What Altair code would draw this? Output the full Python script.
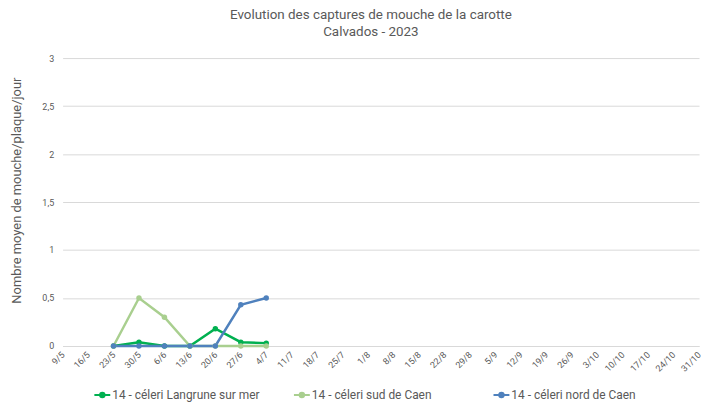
import altair as alt
import pandas as pd

dates = ["9/5", "16/5", "23/5", "30/5", "6/6", "13/6", "20/6", "27/6", "4/7", "11/7",
         "18/7", "25/7", "1/8", "8/8", "15/8", "22/8", "29/8", "5/9", "12/9", "19/9",
         "26/9", "3/10", "10/10", "17/10", "24/10", "31/10"]

obs_dates = ["23/5", "30/5", "6/6", "13/6", "20/6", "27/6", "4/7"]
langrune = [0, 0.04, 0, 0, 0.18, 0.04, 0.03]
sud_caen = [0, 0.5, 0.3, 0, 0, 0, 0]
nord_caen = [0, 0, 0, 0, 0, 0.43, 0.5]

series_names = ["14 - céleri Langrune sur mer", "14 - céleri sud de Caen", "14 - céleri nord de Caen"]
series_colors = ["#00B050", "#A9CF8F", "#4F81BD"]

rows = []
for k, (name, vals) in enumerate(zip(series_names, [langrune, sud_caen, nord_caen])):
    for d, v in zip(obs_dates, vals):
        rows.append({"date": d, "valeur": v, "serie": name, "ordre": k})
df = pd.DataFrame(rows)

FONT = "Roboto"
GREY = "#595959"

x = alt.X("date:O", sort=dates,
          scale=alt.Scale(domain=dates, type="point", padding=0),
          axis=alt.Axis(title=None, labelAngle=315, labelAlign="right", labelBaseline="middle",
                        labelPadding=7, ticks=False, domain=True, domainColor="#D9D9D9",
                        labelColor=GREY, labelFont=FONT, labelFontSize=9, grid=False))
y = alt.Y("valeur:Q", scale=alt.Scale(domain=[0, 3]),
          axis=alt.Axis(title="Nombre moyen de mouche/plaque/jour", values=[0, 0.5, 1, 1.5, 2, 2.5, 3],
                        labelExpr="replace(toString(datum.value), '.', ',')",
                        ticks=False, domain=False, gridColor="#D9D9D9", labelPadding=9,
                        labelColor=GREY, labelFont=FONT, labelFontSize=9,
                        titleColor=GREY, titleFont=FONT, titleFontSize=13, titleFontWeight="normal",
                        titleX=-46, titleY=133, titleAngle=270, titleAlign="center", titleBaseline="middle"))
color = alt.Color("serie:N", sort=series_names,
                  scale=alt.Scale(domain=series_names, range=series_colors),
                  legend=alt.Legend(title=None, orient="none", direction="horizontal",
                                    columns=3, gridAlign="all",
                                    legendX=31, legendY=330, columnPadding=30,
                                    symbolType="M-1,0L1,0M-0.28,0A0.28,0.28,0,1,0,0.28,0A0.28,0.28,0,1,0,-0.28,0Z",
                                    symbolSize=256, symbolStrokeWidth=2,
                                    labelFont=FONT, labelFontSize=12, labelColor=GREY, labelOffset=1))

base = alt.Chart(df).encode(x=x, y=y, color=color, order=alt.Order("ordre:Q"))
lines = base.mark_line(strokeWidth=2.5).encode(detail="serie:N")
points = base.mark_point(filled=True, size=30, opacity=1)

chart = alt.layer(lines, points).properties(
    width=641, height=290,
    autosize=alt.AutoSizeParams(type="none"),
    padding={"left": 55, "top": 49, "right": 3, "bottom": 58},
    title=alt.TitleParams(["Evolution des captures de mouche de la carotte", "Calvados - 2023"],
                          anchor="middle", dx=-10, offset=16, font=FONT, fontSize=13.5,
                          fontWeight="normal", color=GREY, lineHeight=17),
).configure_view(stroke=None)

chart.save("out.html", embed_options={"renderer": "svg", "actions": False})
